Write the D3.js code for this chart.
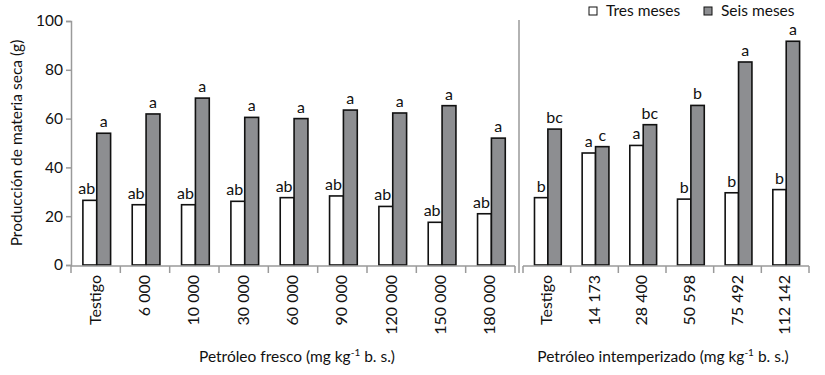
<!DOCTYPE html>
<html>
<head>
<meta charset="utf-8">
<script src="https://cdn.jsdelivr.net/npm/d3@7"></script>
<style>
  body { margin: 0; background: #fff; }
  text { font-family: Lato, "Open Sans", sans-serif; fill: #111; }
</style>
</head>
<body>
<svg id="chart" width="825" height="375"></svg>
<script>
// fresh oil panel
let freshCats = ["Testigo", "6 000", "10 000", "30 000", "60 000", "90 000", "120 000", "150 000", "180 000"];
let freshTres = [26.5, 24.7, 24.7, 26.1, 27.6, 28.3, 24.0, 17.5, 21.0];
let freshSeis = [54.0, 61.9, 68.4, 60.5, 60.0, 63.5, 62.3, 65.3, 52.0];
let freshTresLbl = ["ab", "ab", "ab", "ab", "ab", "ab", "ab", "ab", "ab"];
let freshSeisLbl = ["a", "a", "a", "a", "a", "a", "a", "a", "a"];

// weathered oil panel
let weathCats = ["Testigo", "14 173", "28 400", "50 598", "75 492", "112 142"];
let weathTres = [27.6, 45.9, 49.0, 27.0, 29.6, 30.9];
let weathSeis = [55.7, 48.5, 57.5, 65.4, 83.2, 91.7];
let weathTresLbl = ["b", "a", "a", "b", "b", "b"];
let weathSeisLbl = ["bc", "c", "bc", "b", "a", "a"];

let yTicks = [0, 20, 40, 60, 80, 100];
let seriesNames = ["Tres meses", "Seis meses"];
let fills = ["#ffffff", "#8d8e91"];

const svg = d3.select("#chart");
const axisColor = "#9a9a9a";

let y = d3.scaleLinear().domain([0, 100]).range([265, 21]);

// y axis
let yAxis = d3.axisLeft(y).tickValues(yTicks).tickSize(5).tickPadding(3);
let gy = svg.append("g").attr("transform", "translate(71,0)").call(yAxis);
gy.select(".domain").attr("stroke", axisColor).attr("stroke-width", 1.5);
gy.selectAll(".tick line").attr("stroke", axisColor).attr("stroke-width", 1.5);
gy.selectAll(".tick text").style("font-size", "15.5px").attr("fill", "#111");

svg.append("text")
    .attr("transform", "translate(22,143) rotate(-90)")
    .attr("text-anchor", "middle")
    .style("font-size", "15.5px")
    .text("Producción de materia seca (g)");

// separator between panels
svg.append("line")
    .attr("x1", 519).attr("x2", 519)
    .attr("y1", 20).attr("y2", 273)
    .attr("stroke", axisColor).attr("stroke-width", 1.5);

function drawPanel(cats, tres, seis, tresLbl, seisLbl, x0, x1, title, titleX) {
    let data = cats.map((c, i) => ({ cat: c, vals: [tres[i], seis[i]], lbls: [tresLbl[i], seisLbl[i]] }));
    let xScale = d3.scaleBand().domain(cats).range([x0, x1]).padding(0);
    let sub = d3.scaleBand().domain(seriesNames).range([0, xScale.bandwidth()]).paddingInner(0).paddingOuter(0.78).align(0.55);

    // bars
    let groups = svg.selectAll(null)
        .data(data)
        .enter()
        .append("g")
        .attr("transform", (d) => "translate(" + xScale(d.cat) + ",0)");

    groups.selectAll("rect")
        .data((d) => d.vals.map((v, i) => ({ name: seriesNames[i], v: v, lbl: d.lbls[i], i: i })))
        .enter()
        .append("rect")
        .attr("x", (d) => sub(d.name))
        .attr("width", sub.bandwidth())
        .attr("y", (d) => y(d.v))
        .attr("height", (d) => y(0) - y(d.v))
        .attr("fill", (d) => fills[d.i])
        .attr("stroke", "#111")
        .attr("stroke-width", 1.6);

    // significance letters, white-bar ones kept off the grey bar
    groups.selectAll(".lbl")
        .data((d) => d.vals.map((v, i) => ({ name: seriesNames[i], v: v, lbl: d.lbls[i], i: i })))
        .enter()
        .append("text")
        .attr("class", "lbl")
        .attr("y", (d) => y(d.v) - 6)
        .attr("text-anchor", "middle")
        .style("font-size", "16px")
        .text((d) => d.lbl)
        .attr("x", function (d) {
            let cx = sub(d.name) + sub.bandwidth() / 2;
            if (d.i == 0) {
                let w = this.getComputedTextLength();
                cx = Math.min(cx, sub(d.name) + sub.bandwidth() - 1.5 - w / 2);
            }
            return cx;
        });

    // x axis with ticks on category boundaries
    let g = svg.append("g");
    g.append("line")
        .attr("x1", x0).attr("x2", x1)
        .attr("y1", y(0) + 1).attr("y2", y(0) + 1)
        .attr("stroke", axisColor).attr("stroke-width", 1.5);
    let bounds = cats.map((c) => xScale(c)).concat([x1]);
    g.selectAll(".bt")
        .data(bounds)
        .enter()
        .append("line")
        .attr("x1", (d) => d).attr("x2", (d) => d)
        .attr("y1", y(0) + 1).attr("y2", y(0) + 8)
        .attr("stroke", axisColor).attr("stroke-width", 1.5);

    g.selectAll(".xl")
        .data(cats)
        .enter()
        .append("text")
        .attr("transform", (d) => "translate(" + (xScale(d) + xScale.bandwidth() / 2 + 5) + "," + (y(0) + 10) + ") rotate(-90)")
        .attr("text-anchor", "end")
        .style("font-size", "16px")
        .text((d) => d);

    let t = svg.append("text")
        .attr("x", titleX).attr("y", 362)
        .attr("text-anchor", "middle")
        .style("font-size", "15.5px");
    t.append("tspan").text(title);
    t.append("tspan").attr("dy", -6).style("font-size", "10px").text("-1");
    t.append("tspan").attr("dy", 6).text(" b. s.)");
}

drawPanel(freshCats, freshTres, freshSeis, freshTresLbl, freshSeisLbl, 71, 515, "Petróleo fresco (mg kg", 297);
drawPanel(weathCats, weathTres, weathSeis, weathTresLbl, weathSeisLbl, 523, 809, "Petróleo intemperizado (mg kg", 663);

// legend
let legendX = [589, 704];
let lg = svg.selectAll(".leg")
    .data(seriesNames)
    .enter()
    .append("g")
    .attr("transform", (d, i) => "translate(" + legendX[i] + ",7)");
lg.append("rect")
    .attr("width", 8).attr("height", 8)
    .attr("fill", (d, i) => fills[i])
    .attr("stroke", "#111").attr("stroke-width", 1);
lg.append("text")
    .attr("x", 17).attr("y", 9)
    .style("font-size", "15.5px")
    .text((d) => d);
</script>
</body>
</html>
